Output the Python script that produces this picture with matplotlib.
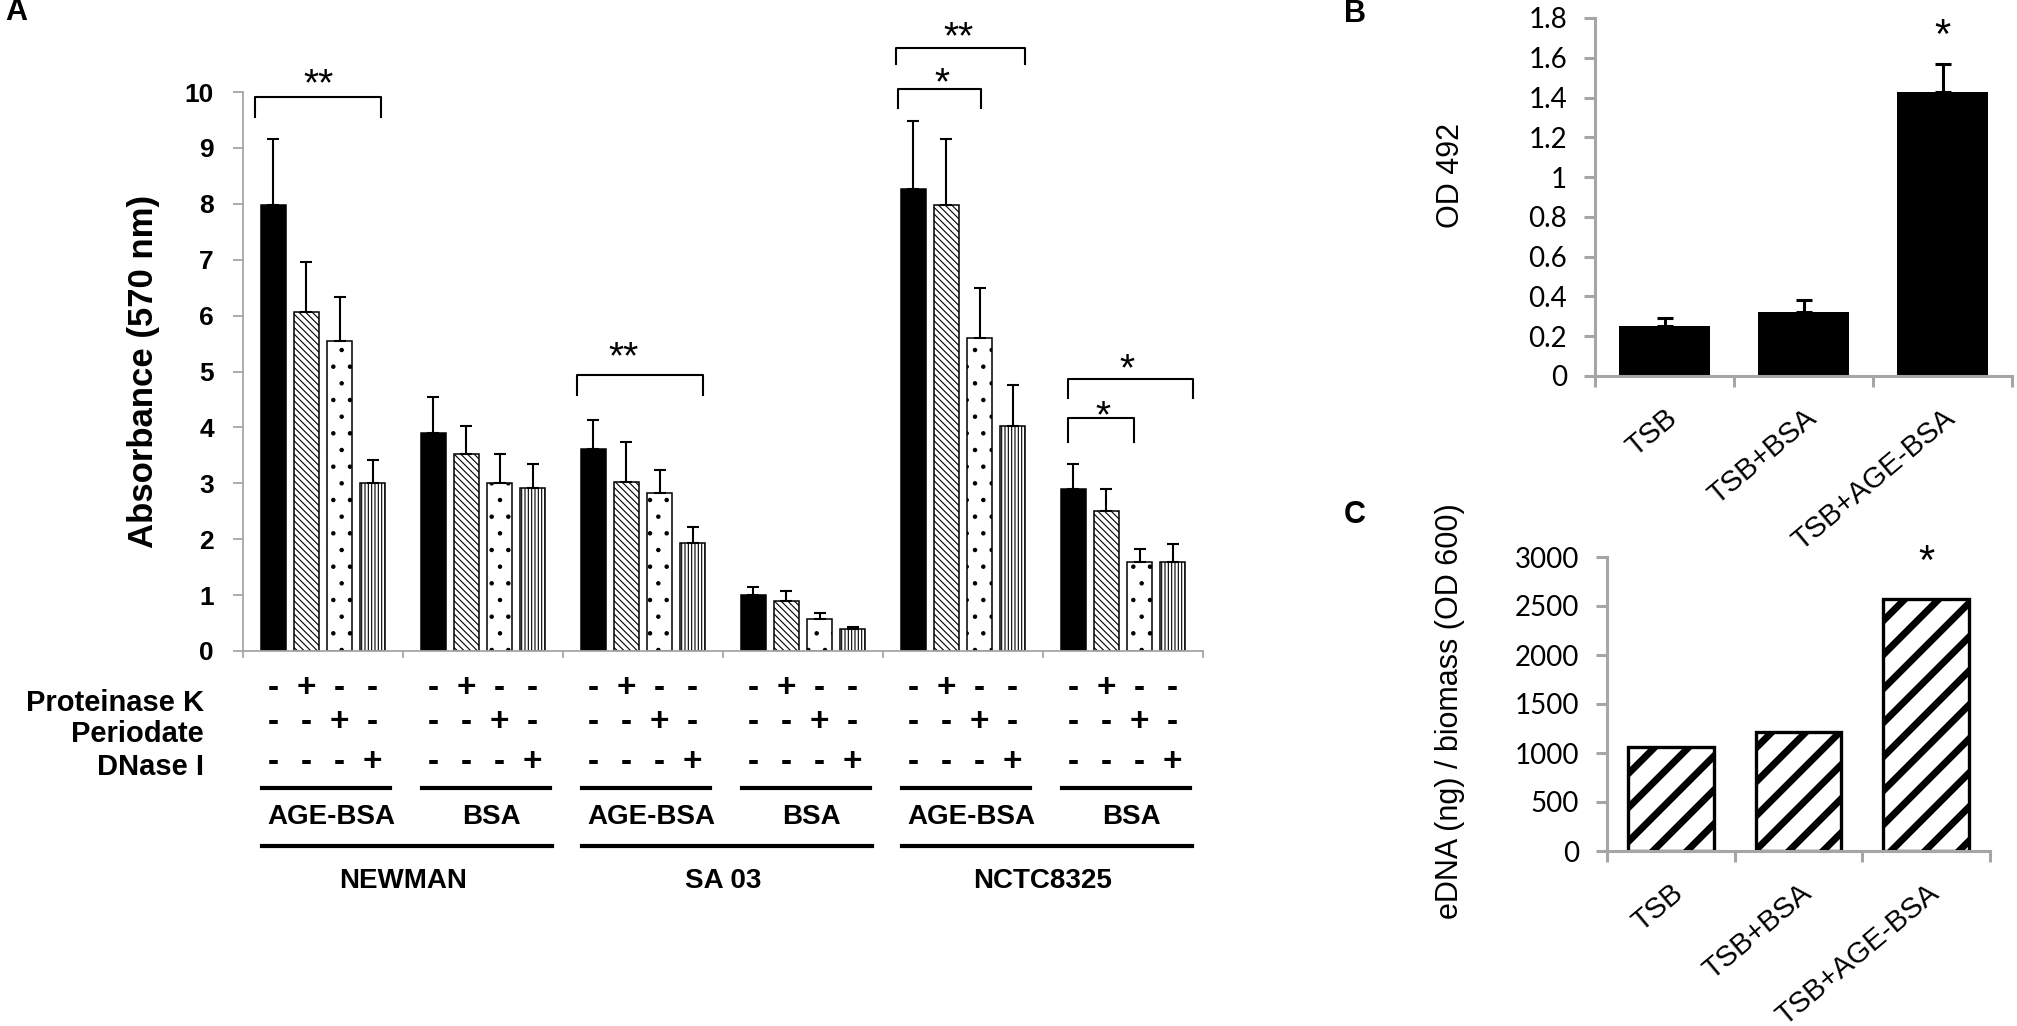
import numpy as np
import matplotlib
matplotlib.use("Agg")
import matplotlib.pyplot as plt
from matplotlib.lines import Line2D
from matplotlib.transforms import blended_transform_factory

# ---- panel A: absorbance, 3 strains x 2 coatings, 4 treatments per coating
strains = ["NEWMAN", "SA 03", "NCTC8325"]
coatings = ["AGE-BSA", "BSA"]
treat_names = ["Proteinase K", "Periodate", "DNase I"]
treat_rows = [["-", "+", "-", "-"],
              ["-", "-", "+", "-"],
              ["-", "-", "-", "+"]]

# groups: NEWMAN AGE-BSA, NEWMAN BSA, SA03 AGE-BSA, SA03 BSA, NCTC AGE-BSA, NCTC BSA
abs_none = [7.97, 3.90, 3.61, 1.00, 8.26, 2.90]
abs_protk = [6.06, 3.52, 3.02, 0.90, 7.98, 2.50]
abs_period = [5.54, 3.01, 2.83, 0.58, 5.60, 1.60]
abs_dnase = [3.01, 2.91, 1.93, 0.40, 4.02, 1.60]
err_none = [1.19, 0.64, 0.52, 0.15, 1.23, 0.45]
err_protk = [0.90, 0.50, 0.72, 0.17, 1.18, 0.40]
err_period = [0.80, 0.51, 0.41, 0.10, 0.90, 0.22]
err_dnase = [0.40, 0.44, 0.29, 0.03, 0.73, 0.32]

# significance brackets: group, start/end (fraction of group), top, leg end, mark, mark x, mark y
brackets = [
    (0, 0.075, 0.86, 9.91, 9.56, "**", 0.475, 10.34),
    (2, 0.09, 0.875, 4.93, 4.58, "**", 0.38, 5.45),
    (4, 0.094, 0.61, 10.05, 9.71, "*", 0.37, 10.36),
    (4, 0.08, 0.89, 10.79, 10.50, "**", 0.47, 11.18),
    (5, 0.156, 0.94, 4.87, 4.53, "*", 0.525, 5.24),
    (5, 0.156, 0.57, 4.17, 3.73, "*", 0.375, 4.40),
]

# ---- panels B and C
media = ["TSB", "TSB+BSA", "TSB+AGE-BSA"]
od492 = [0.25, 0.32, 1.43]
od492_err = [0.04, 0.06, 0.14]
edna = [1065, 1210, 2570]

W, H = 2017, 1026
GRAY = "#a6a6a6"
ARIAL = "Liberation Sans"


def box(x0, x1, y_top, y_bot):
    return [x0 / W, 1 - y_bot / H, (x1 - x0) / W, (y_bot - y_top) / H]


def fy(py):
    return 1 - py / H


def star(ax, x, y, s, fs):
    # y is the visual centre of the asterisk
    ax.annotate(s, (x, y), xytext=(0, -0.57 * fs), textcoords="offset points",
                ha="center", va="baseline", fontsize=fs, family=ARIAL,
                annotation_clip=False)


fig = plt.figure(figsize=(W / 100, H / 100), dpi=100)
plt.rcParams["hatch.linewidth"] = 0.8

# ================= A =================
axA = fig.add_axes(box(243, 1203, 92, 651))
n_groups = len(abs_none)
groups = np.arange(n_groups)
step, width = 0.207, 0.155
series = [(abs_none, err_none, "black", ""),
          (abs_protk, err_protk, "white", "\\" * 5),
          (abs_period, err_period, "white", "."),
          (abs_dnase, err_dnase, "white", "|" * 5)]
bar_x = []
for k, (vals, errs, fc, hatch) in enumerate(series):
    x = groups + 0.5 + (k - 1.5) * step
    bar_x.append(x)
    axA.bar(x, vals, width, color=fc, edgecolor="black", linewidth=1.1,
            hatch=hatch, zorder=2)
    axA.errorbar(x, vals, yerr=[np.zeros(n_groups), errs], fmt="none",
                 ecolor="black", elinewidth=1.5, capsize=4, capthick=1.5, zorder=3)

axA.set_xlim(0, n_groups)
axA.set_ylim(0, 10)
axA.set_yticks(range(11), labels=[str(v) for v in range(11)],
               fontsize=19, fontweight="bold", family=ARIAL)
axA.set_xticks(range(n_groups + 1))
axA.set_xticklabels([])
for s in ["top", "right"]:
    axA.spines[s].set_visible(False)
for s in ["left", "bottom"]:
    axA.spines[s].set_color(GRAY)
    axA.spines[s].set_linewidth(1.3)
axA.tick_params(axis="y", color=GRAY, length=7, width=1.3, pad=14)
axA.tick_params(axis="x", color=GRAY, length=5, width=1.3)

for g, f0, f1, top, bot, lab, lx, ly in brackets:
    axA.plot([g + f0, g + f0, g + f1, g + f1], [bot, top, top, bot],
             color="black", lw=1.5, clip_on=False)
    star(axA, g + lx, ly, lab, 28)

fig.text(143 / W, fy(371), "Absorbance (570 nm)", rotation=90, ha="center",
         va="center", fontsize=25, fontweight="bold", family=ARIAL)
fig.text(16 / W, fy(12), "A", ha="center", va="center", fontsize=22,
         fontweight="bold", family=ARIAL)

# treatment table under panel A
tr = blended_transform_factory(axA.transData, fig.transFigure)
sign_rows_y = [688, 723, 763]
label_rows_y = [703, 734, 767]
for r, (name, signs) in enumerate(zip(treat_names, treat_rows)):
    fig.text(204 / W, fy(label_rows_y[r]), name, ha="right", va="center",
             fontsize=21, fontweight="bold", family=ARIAL)
    for k, sgn in enumerate(signs):
        for g in groups:
            fig.text(bar_x[k][g], fy(sign_rows_y[r]), sgn, transform=tr,
                     ha="center", va="center", fontsize=24, fontweight="bold",
                     family=ARIAL)

for g in groups:
    fig.add_artist(Line2D([g + 0.12, g + 0.92], [fy(788)] * 2, transform=tr,
                          color="black", lw=3))
    fig.text(g + 0.55, fy(817), coatings[g % 2], transform=tr, ha="center",
             va="center", fontsize=20, fontweight="bold", family=ARIAL)
for s, strain in enumerate(strains):
    fig.add_artist(Line2D([2 * s + 0.12, 2 * s + 1.93], [fy(846)] * 2,
                          transform=tr, color="black", lw=3))
    fig.text(2 * s + 1.0, fy(881), strain, transform=tr, ha="center",
             va="center", fontsize=20, fontweight="bold", family=ARIAL)


# ================= B and C =================
cats = np.arange(len(media)) + 0.5


def excel_axes(ax):
    ax.set_xlim(0, len(media))
    for s in ["top", "right"]:
        ax.spines[s].set_visible(False)
    for s in ["left", "bottom"]:
        ax.spines[s].set_color(GRAY)
        ax.spines[s].set_linewidth(2.2)
    ax.set_xticks(range(len(media) + 1))
    ax.set_xticklabels([])
    ax.set_xticks(cats, labels=media, minor=True, rotation=40, ha="right",
                  va="top", rotation_mode="anchor", fontsize=21, family=ARIAL)
    ax.tick_params(axis="x", which="major", length=8, width=2.2, color=GRAY)
    ax.tick_params(axis="x", which="minor", length=0, pad=20)
    ax.tick_params(axis="y", length=8, width=2.2, color=GRAY, pad=12)


axB = fig.add_axes(box(1595, 2012, 18, 376))
axB.bar(cats, od492, 0.66, color="black", zorder=2)
axB.errorbar(cats, od492, yerr=[np.zeros(len(media)), od492_err], fmt="none",
             ecolor="black", elinewidth=2.2, capsize=6, capthick=2.2, zorder=3)
axB.set_ylim(0, 1.8)
yt = np.round(np.arange(0, 1.81, 0.2), 1)
axB.set_yticks(yt, labels=[f"{v:g}" for v in yt], fontsize=20, family="Lato")
excel_axes(axB)
star(axB, cats[2], 1.77, "*", 30)
fig.text(1451 / W, fy(176), "OD 492", rotation=90, ha="center", va="center",
         fontsize=22, family=ARIAL)
fig.text(1355 / W, fy(14), "B", ha="center", va="center", fontsize=22,
         fontweight="bold", family=ARIAL)

axC = fig.add_axes(box(1607, 1990, 557, 851))
bars = axC.bar(cats, edna, 0.67, color="white", edgecolor="black",
               linewidth=2.4, zorder=2)
axC.set_ylim(0, 3000)
yt = np.arange(0, 3001, 500)
axC.set_yticks(yt, labels=[str(v) for v in yt], fontsize=20, family="Lato")
excel_axes(axC)

# wide diagonal stripes inside the C bars (45 degrees on screen)
pos = axC.get_position()
wpx = pos.width * W
hpx = pos.height * H
r = wpx / hpx
spacing = 34 / wpx
for patch in bars.patches:
    for c in np.arange(-1 / r - spacing, 1 + spacing, spacing):
        ln = Line2D([c - 2, c + 2], [-2 * r, 2 * r], transform=axC.transAxes,
                    color="black", lw=5, solid_capstyle="butt", zorder=2.5)
        axC.add_artist(ln)
        ln.set_clip_path(patch)

star(axC, cats[2], 3071, "*", 30)
fig.text(1450 / W, fy(711), "eDNA (ng) / biomass (OD 600)", rotation=90,
         ha="center", va="center", fontsize=22, family=ARIAL)
fig.text(1355 / W, fy(515), "C", ha="center", va="center", fontsize=22,
         fontweight="bold", family=ARIAL)

fig.savefig("out.png", dpi=100)
